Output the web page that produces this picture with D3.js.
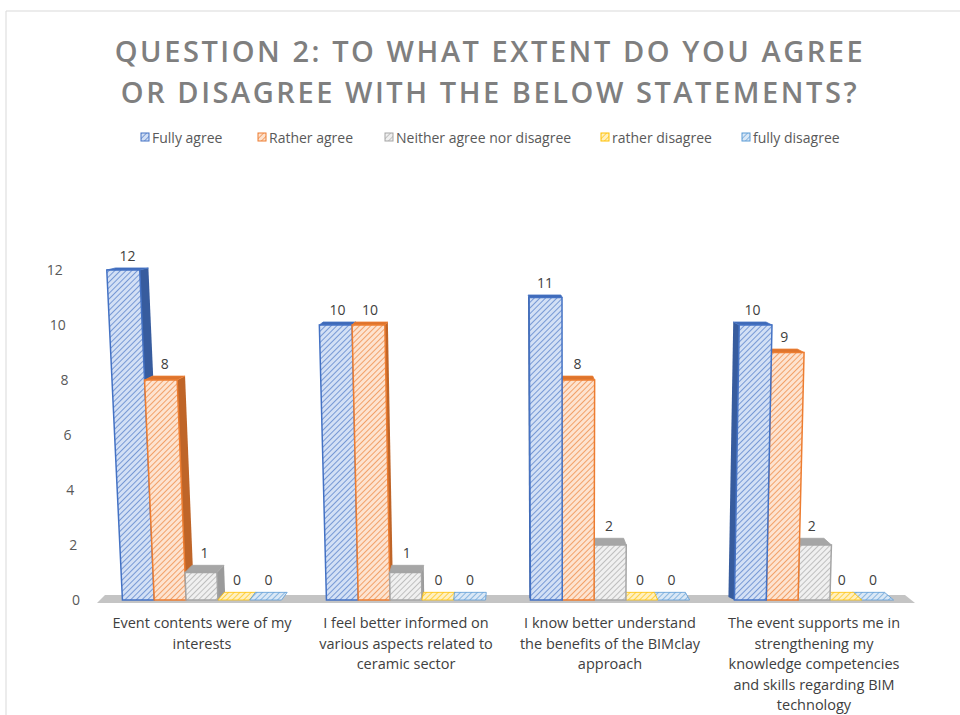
<!DOCTYPE html>
<html>
<head>
<meta charset="utf-8">
<script src="https://cdn.jsdelivr.net/npm/d3@7"></script>
<style>
  body { margin: 0; background: #fff; }
  text { font-family: "Open Sans", sans-serif; }
</style>
</head>
<body>
<div class="chart"></div>
<script>

// data
const categories = [
    "Event contents were of my|interests",
    "I feel better informed on|various aspects related to|ceramic sector",
    "I know better understand|the benefits of the BIMclay|approach",
    "The event supports me in|strengthening my|knowledge competencies|and skills regarding BIM|technology"
]
const seriesNames = ["Fully agree", "Rather agree", "Neither agree nor disagree", "rather disagree", "fully disagree"]
const fullyAgree = [12, 10, 11, 10]
const ratherAgree = [8, 10, 8, 9]
const neither = [1, 1, 2, 2]
const ratherDisagree = [0, 0, 0, 0]
const fullyDisagree = [0, 0, 0, 0]
const yTicks = [0, 2, 4, 6, 8, 10, 12]

const seriesValues = [fullyAgree, ratherAgree, neither, ratherDisagree, fullyDisagree]
const colors = ["#4472c4", "#ed7d31", "#a5a5a5", "#ffc000", "#5b9bd5"]
const lights = ["#d3e0f5", "#fde3d0", "#f0f0f0", "#fff0c0", "#dae8f6"]

const width = 960, height = 715

let svg = d3.select(".chart").append("svg")
    .attr("width", width)
    .attr("height", height)

// outer frame
svg.append("path")
    .attr("d", "M6,740 L6,11 L960,11")
    .attr("fill", "none")
    .attr("stroke", "#d9d9d9")

// hatch patterns
let defs = svg.append("defs")
seriesNames.forEach(function (s, i) {
    let p = defs.append("pattern")
        .attr("id", "hatch" + i)
        .attr("patternUnits", "userSpaceOnUse")
        .attr("width", 4)
        .attr("height", 4)
        .attr("patternTransform", "rotate(45)")
    p.append("rect").attr("width", 4).attr("height", 4).attr("fill", lights[i])
    p.append("line")
        .attr("x1", 0).attr("y1", 0).attr("x2", 0).attr("y2", 4)
        .attr("stroke", colors[i])
        .attr("stroke-width", 1.3)
})

// title
svg.append("g").selectAll("text")
    .data(["QUESTION 2: TO WHAT EXTENT DO YOU AGREE", "OR DISAGREE WITH THE BELOW STATEMENTS?"])
    .join("text")
    .attr("x", 490)
    .attr("y", (d, i) => 62 + i * 41)
    .attr("text-anchor", "middle")
    .attr("fill", "#7f7f7f")
    .attr("font-size", 29)
    .attr("font-weight", 600)
    .attr("letter-spacing", 2.55)
    .text(d => d)

// legend
const legendX = [141, 258, 385, 601, 742]
let legend = svg.append("g").selectAll("g")
    .data(seriesNames)
    .join("g")
    .attr("transform", (d, i) => `translate(${legendX[i]}, 138)`)
legend.append("rect")
    .attr("x", 0).attr("y", -5)
    .attr("width", 8).attr("height", 8)
    .attr("fill", (d, i) => "url(#hatch" + i + ")")
    .attr("stroke", (d, i) => colors[i])
legend.append("text")
    .attr("x", 11)
    .attr("y", 5)
    .attr("font-size", 14)
    .attr("fill", "#595959")
    .text(d => d)

// scales
let xScale = d3.scaleBand()
    .domain(d3.range(categories.length))
    .range([100, 916])
    .paddingInner(0.22)
    .paddingOuter(0.11)

let xSub = d3.scaleBand()
    .domain(d3.range(seriesNames.length))
    .range([0, xScale.bandwidth()])

let yScale = d3.scaleLinear()
    .domain([0, 12])
    .range([600, 270])

// fake perspective: lean and depth depend on where a point sits
const vanishX = 570
function proj(x, v) {
    let f = (yScale(0) - yScale(v)) / (yScale(0) - yScale(12))
    return [x + (x - vanishX) * 0.035 * f, yScale(v)]
}
function depth(x, y) {
    return [(500 - x) * 0.024, -(y - 150) * 0.017]
}

// y tick labels
svg.append("g").selectAll("text")
    .data(yTicks)
    .join("text")
    .attr("x", d => proj(80, d)[0])
    .attr("y", d => proj(80, d)[1] + 5)
    .attr("text-anchor", "end")
    .attr("font-size", 14)
    .attr("fill", "#595959")
    .text(d => d)

// floor
let f0 = yScale(0) + 3
svg.append("path")
    .attr("d", `M97,${f0} L915,${f0} L${915 - 10},${f0 - 8} L${97 + 8},${f0 - 8} Z`)
    .attr("fill", "#c4c4c4")

// bars
let bars = []
categories.forEach(function (c, gi) {
    let order = d3.range(seriesValues.length)
    // on the right half the side faces point left, so paint right to left
    let mid = xScale(gi) + xScale.bandwidth() / 2
    if (mid > 500) order.reverse()
    order.forEach(function (si) {
        bars.push({ g: gi, s: si, value: seriesValues[si][gi] })
    })
})

let barG = svg.append("g")
let labelG = svg.append("g")
bars.forEach(function (d) {
    let x0 = xScale(d.g) + xSub(d.s)
    let x1 = x0 + xSub.bandwidth()
    let bl = proj(x0, 0), br = proj(x1, 0)
    let tl = proj(x0, d.value), tr = proj(x1, d.value)
    let dd = depth((x0 + x1) / 2, tl[1])
    let dx = dd[0], dy = dd[1]
    let dark = d3.color(colors[d.s]).darker(0.6)

    // side face
    let sx = dx > 0 ? [tr, br] : [tl, bl]
    barG.append("path")
        .attr("d", `M${sx[0][0]},${sx[0][1]} L${sx[1][0]},${sx[1][1]} L${sx[1][0] + dx},${sx[1][1] + dy} L${sx[0][0] + dx},${sx[0][1] + dy} Z`)
        .attr("fill", d.s == 2 ? "#9a9a9a" : dark)
    // top face
    barG.append("path")
        .attr("d", `M${tl[0]},${tl[1]} L${tr[0]},${tr[1]} L${tr[0] + dx},${tr[1] + dy} L${tl[0] + dx},${tl[1] + dy} Z`)
        .attr("fill", d.s == 2 ? "#a6a6a6" : d3.color(colors[d.s]).darker(0.2))
        .attr("stroke", colors[d.s])
        .attr("stroke-width", 0.8)
    // front face
    if (d.value > 0) {
        barG.append("path")
            .attr("d", `M${bl[0]},${bl[1]} L${br[0]},${br[1]} L${tr[0]},${tr[1]} L${tl[0]},${tl[1]} Z`)
            .attr("fill", "url(#hatch" + d.s + ")")
            .attr("stroke", colors[d.s])
            .attr("stroke-width", 1.5)
    } else {
        barG.select("path:last-child").attr("fill", "url(#hatch" + d.s + ")")
    }
    // value label
    labelG.append("text")
        .attr("x", (tl[0] + tr[0]) / 2 + dx / 2)
        .attr("y", tl[1] + dy - 7)
        .attr("text-anchor", "middle")
        .attr("font-size", 14)
        .attr("fill", "#404040")
        .text(d.value)
})

// category labels
let labels = svg.append("g").selectAll("text")
    .data(categories)
    .join("text")
    .attr("x", (d, i) => xScale(i) + xScale.bandwidth() / 2)
    .attr("y", 628)
    .attr("text-anchor", "middle")
    .attr("font-size", 14.5)
    .attr("fill", "#404040")
labels.selectAll("tspan")
    .data(d => d.split("|"))
    .join("tspan")
    .attr("x", function () { return this.parentNode.getAttribute("x") })
    .attr("dy", (d, i) => i == 0 ? 0 : 20.5)
    .text(d => d)

</script>
</body>
</html>
